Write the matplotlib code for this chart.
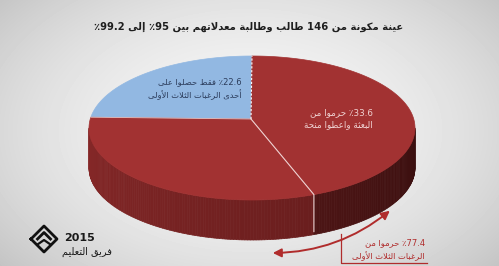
import re
import numpy as np
import matplotlib
matplotlib.use("Agg")
import matplotlib.pyplot as plt
from matplotlib.collections import PolyCollection
from matplotlib.patches import Polygon, FancyArrowPatch

# data
TITLE = "عينة مكونة من 146 طالب وطالبة معدلاتهم بين 95٪ إلى 99.2٪"
shares = [22.6, 33.6, 43.8]          # first choices / deprived (lower) / deprived (right)
top_colors = ["#92b8e2", "#a23232", "#a23232"]
side_colors = [("#8a2b2b", "#8a2b2b"), ("#862828", "#6a1e1e"), ("#4c1515", "#3a0f0f")]
label_blue = ["22.6٪ فقط حصلوا على", "أحدى الرغبات الثلاث الأولى"]
label_red = ["33.6٪ حرموا من", "البعثة واعطوا منحة"]
label_total = ["77.4٪ حرموا من", "الرغبات الثلاث الأولى"]
team = ["2015", "فريق التعليم"]

# --- minimal arabic shaping + rtl ordering (matplotlib does neither) ---
FORMS = {
    "ا": ("\uFE8D", "\uFE8E"), "أ": ("\uFE83", "\uFE84"), "إ": ("\uFE87", "\uFE88"),
    "ب": ("\uFE8F", "\uFE90", "\uFE91", "\uFE92"), "ة": ("\uFE93", "\uFE94"),
    "ت": ("\uFE95", "\uFE96", "\uFE97", "\uFE98"), "ث": ("\uFE99", "\uFE9A", "\uFE9B", "\uFE9C"),
    "ج": ("\uFE9D", "\uFE9E", "\uFE9F", "\uFEA0"), "ح": ("\uFEA1", "\uFEA2", "\uFEA3", "\uFEA4"),
    "د": ("\uFEA9", "\uFEAA"), "ر": ("\uFEAD", "\uFEAE"),
    "ص": ("\uFEB9", "\uFEBA", "\uFEBB", "\uFEBC"), "ط": ("\uFEC1", "\uFEC2", "\uFEC3", "\uFEC4"),
    "ع": ("\uFEC9", "\uFECA", "\uFECB", "\uFECC"), "غ": ("\uFECD", "\uFECE", "\uFECF", "\uFED0"),
    "ف": ("\uFED1", "\uFED2", "\uFED3", "\uFED4"), "ق": ("\uFED5", "\uFED6", "\uFED7", "\uFED8"),
    "ك": ("\uFED9", "\uFEDA", "\uFEDB", "\uFEDC"), "ل": ("\uFEDD", "\uFEDE", "\uFEDF", "\uFEE0"),
    "م": ("\uFEE1", "\uFEE2", "\uFEE3", "\uFEE4"), "ن": ("\uFEE5", "\uFEE6", "\uFEE7", "\uFEE8"),
    "ه": ("\uFEE9", "\uFEEA", "\uFEEB", "\uFEEC"), "و": ("\uFEED", "\uFEEE"),
    "ى": ("\uFEEF", "\uFEF0"), "ي": ("\uFEF1", "\uFEF2", "\uFEF3", "\uFEF4"),
}
LAM_ALEF = {"ا": ("\uFEFB", "\uFEFC"), "أ": ("\uFEF7", "\uFEF8"), "إ": ("\uFEF9", "\uFEFA")}


def shape(text):
    items, i = [], 0
    while i < len(text):
        c = text[i]
        if c == "ل" and i + 1 < len(text) and text[i + 1] in LAM_ALEF:
            items.append(LAM_ALEF[text[i + 1]])
            i += 2
        else:
            items.append(FORMS.get(c, c))
            i += 1
    out = []
    for k, it in enumerate(items):
        if isinstance(it, str):
            out.append(it)
            continue
        prev = items[k - 1] if k > 0 else None
        nxt = items[k + 1] if k + 1 < len(items) else None
        jp = isinstance(prev, tuple) and len(prev) == 4
        jn = len(it) == 4 and isinstance(nxt, tuple)
        out.append(it[{(0, 0): 0, (1, 0): 1, (0, 1): 2, (1, 1): 3}[(int(jp), int(jn))]])
    return "".join(out)


def rtl(text):
    toks = re.findall(r"[0-9.]+|[^0-9.]+", shape(text))
    return "".join(t if t[0] in "0123456789." else t[::-1] for t in reversed(toks))


W, H = 499, 266
fig = plt.figure(figsize=(W / 100, H / 100), dpi=100)
ax = fig.add_axes([0, 0, 1, 1])
ax.set_xlim(0, W)
ax.set_ylim(H, 0)
ax.axis("off")

# background vignette
yy, xx = np.mgrid[0:H, 0:W]
r2 = ((xx - 250) / 300.0) ** 2 + ((yy - 130) / 190.0) ** 2
bg = np.clip(0.96 - 0.16 * r2, 0, 1)
ax.imshow(bg, cmap="gray", vmin=0, vmax=1, extent=[0, W, H, 0], zorder=0)

# pie geometry (pixels)
cx, cy, a, b, depth = 252, 128, 163, 72, 40
apx, apy = 251, 119
bounds = 90 + 360 * np.concatenate([[0], np.cumsum(shares)]) / sum(shares)

# side wall
strips, cols = [], []
for k in range(len(shares)):
    t0, t1 = max(bounds[k], 180), min(bounds[k + 1], 360)
    if t1 <= t0:
        continue
    ts = np.linspace(t0, t1, int(t1 - t0) + 2)
    c0 = np.array(matplotlib.colors.to_rgb(side_colors[k][0]))
    c1 = np.array(matplotlib.colors.to_rgb(side_colors[k][1]))
    for j in range(len(ts) - 1):
        u, v = np.radians(ts[j]), np.radians(ts[j + 1])
        x0, x1 = cx + a * np.cos(u), cx + a * np.cos(v)
        y0, y1 = cy - b * np.sin(u), cy - b * np.sin(v)
        strips.append([(x0, y0), (x1, y1), (x1, y1 + depth), (x0, y0 + depth)])
        f = j / max(len(ts) - 2, 1)
        cols.append(c0 + (c1 - c0) * f)
ax.add_collection(PolyCollection(strips, facecolors=cols, edgecolors=cols, linewidths=0.5, zorder=2))

# top face
for k in range(len(shares)):
    ts = np.radians(np.linspace(bounds[k], bounds[k + 1], 120))
    pts = [(apx, apy)] + list(zip(cx + a * np.cos(ts), cy - b * np.sin(ts)))
    ax.add_patch(Polygon(pts, closed=True, facecolor=top_colors[k], edgecolor=top_colors[k], lw=0.5, zorder=3))

# divider lines
t = np.radians(bounds[0])
ax.plot([apx, cx + a * np.cos(t)], [apy, cy - b * np.sin(t)], color="white", lw=0.8, ls=(0, (2, 1.5)), zorder=4)
t = np.radians(bounds[1])
ax.plot([apx, cx + a * np.cos(t)], [apy, cy - b * np.sin(t)], color="white", lw=0.6, alpha=0.7, zorder=4)
t = np.radians(bounds[2])
ex, ey = cx + a * np.cos(t), cy - b * np.sin(t)
ax.plot([apx, ex, ex], [apy, ey, ey + depth - 3], color="#f0d4d4", lw=0.8, zorder=4)

# text
ar = ["DejaVu Sans"]
ax.text(249, 27, rtl(TITLE), ha="center", va="center", fontsize=7.2, fontweight="bold",
        color="#1e1e1e", family=ar, zorder=5)

for i, line in enumerate(label_blue):
    ax.text(242, 82 + i * 13, rtl(line), ha="right", va="center", fontsize=6, color="#2c3d5c", family=ar, zorder=5)
for i, line in enumerate(label_red):
    ax.text(373, 113 + i * 12, rtl(line), ha="right", va="center", fontsize=6.3, color="#f0d2d2", family=ar, zorder=5)
for i, line in enumerate(label_total):
    ax.text(425, 243 + i * 13, rtl(line), ha="right", va="center", fontsize=6, color="#b02c2c", family=ar, zorder=5)

# bracket and arrow for the 77.4% note
ax.plot([341, 341, 427], [234, 263, 263], color="#b02c2c", lw=0.9, zorder=5)
ax.add_patch(FancyArrowPatch((270, 253), (392, 209), arrowstyle="<|-|>,head_length=5,head_width=2.5",
                             connectionstyle="arc3,rad=0.18", color="#b02c2c", lw=1.4, zorder=5))

# team mark
lx, ly, s = 44, 239, 13
ax.plot([lx - s, lx, lx + s, lx, lx - s], [ly, ly - s, ly, ly + s, ly], color="#111", lw=2.0, zorder=5)
ax.plot([lx - s / 2, lx, lx + s / 2], [ly, ly - s / 2, ly], color="#111", lw=2.0, zorder=5)
ax.plot([lx - s / 2, lx, lx + s / 2], [ly + s / 2 - 1, ly + 1, ly + s / 2 - 1], color="#111", lw=1.6, zorder=5)
ax.text(64, 238, team[0], ha="left", va="center", fontsize=8, fontweight="bold", color="#1a1a1a", zorder=5)
ax.text(112, 252, rtl(team[1]), ha="right", va="center", fontsize=7, color="#1a1a1a", family=ar, zorder=5)

fig.savefig("out.png", dpi=100)
